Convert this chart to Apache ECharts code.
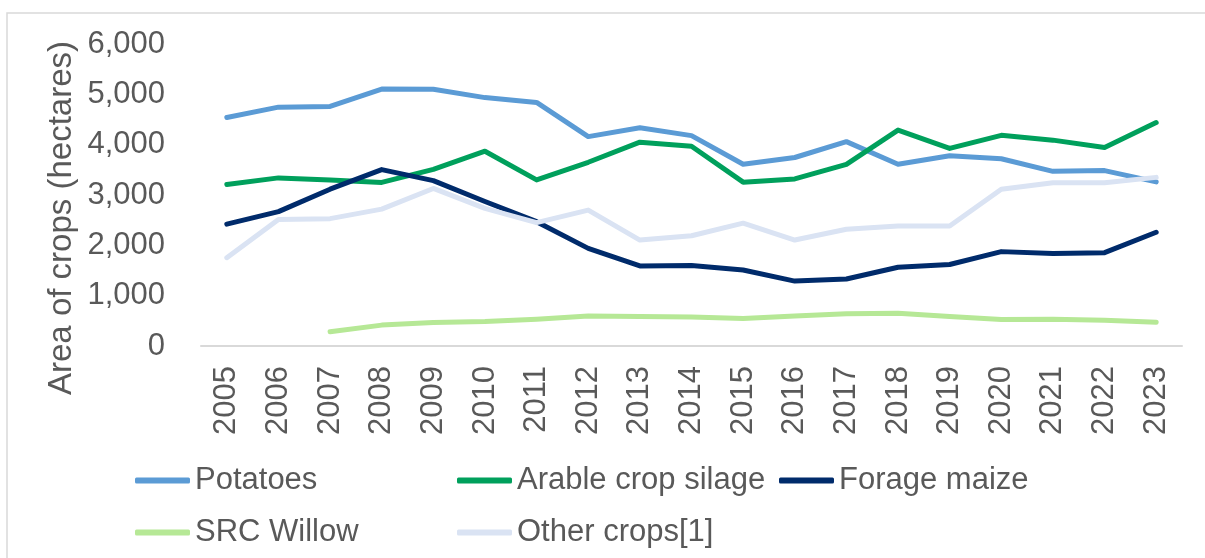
<!DOCTYPE html>
<html>
<head>
<meta charset="utf-8">
<script src="https://cdn.jsdelivr.net/npm/echarts@6/dist/echarts.min.js"></script>
<style>
html,body{margin:0;padding:0;background:#fff;}
#chart{width:1205px;height:558px;}
</style>
</head>
<body>
<div id="chart"></div>
<script>
const years = ['2005','2006','2007','2008','2009','2010','2011','2012','2013','2014','2015','2016','2017','2018','2019','2020','2021','2022','2023'];
const potatoes = [4540,4745,4760,5105,5100,4935,4840,4160,4335,4180,3610,3745,4060,3610,3780,3720,3470,3485,3260];
const arableSilage = [3210,3340,3300,3250,3510,3870,3300,3650,4050,3970,3255,3320,3610,4290,3925,4185,4090,3945,4440];
const forageMaize = [2420,2670,3115,3505,3285,2870,2470,1940,1590,1600,1510,1290,1330,1565,1620,1875,1840,1855,2260];
const srcWillow = [null,null,285,415,465,485,530,595,585,575,545,595,640,650,585,525,530,510,470];
const otherCrops = [1755,2515,2530,2720,3130,2735,2450,2700,2105,2190,2440,2105,2320,2385,2385,3115,3245,3245,3350];
const yTicks = [0,1000,2000,3000,4000,5000,6000];
const seriesNames = ['Potatoes','Arable crop silage','Forage maize','SRC Willow','Other crops[1]'];

const colors = ['#5b9bd5','#00a05c','#002b6b','#b6e896','#dae3f3'];
const FONT = "'Liberation Sans', Arial, sans-serif";
const TXT = '#595959';

const chart = echarts.init(document.getElementById('chart'));
const dataSets = [potatoes, arableSilage, forageMaize, srcWillow, otherCrops];

function legendAt(name, left, top){
  return {
    data:[name], left:left, top:top, orient:'horizontal', padding:0,
    itemWidth:55, itemHeight:6, icon:'roundRect',
    textStyle:{fontFamily:FONT,fontSize:31,color:TXT},
    selectedMode:false
  };
}

chart.setOption({
  animation:false,
  color:colors,
  grid:{left:201,right:23,top:44,bottom:212,containLabel:false},
  graphic:[
    {type:'rect',shape:{x:7,y:13,width:1300,height:600},style:{fill:'none',stroke:'#d9d9d9',lineWidth:1.5},z:-10,silent:true},
    {type:'text',x:62,y:218,rotation:Math.PI/2,style:{text:'Area of crops (hectares)',font:"33px 'Liberation Sans', Arial, sans-serif",fill:TXT,align:'center',verticalAlign:'middle'}}
  ],
  legend:[
    legendAt(seriesNames[0],135,465),
    legendAt(seriesNames[1],457,465),
    legendAt(seriesNames[2],779,465),
    legendAt(seriesNames[3],135,517),
    legendAt(seriesNames[4],457,517)
  ],
  xAxis:{
    type:'category',data:years,boundaryGap:true,
    axisLine:{show:true,lineStyle:{color:'#d9d9d9',width:2}},
    axisTick:{show:false},
    axisLabel:{rotate:90,margin:20,fontFamily:FONT,fontSize:31,color:TXT,interval:0}
  },
  yAxis:{
    type:'value',min:0,max:6000,interval:1000,
    axisLine:{show:false},axisTick:{show:false},splitLine:{show:false},
    axisLabel:{margin:36,fontFamily:FONT,fontSize:31,color:TXT,
      formatter:v=>yTicks.includes(v)?v.toLocaleString('en-US'):''}
  },
  series:dataSets.map((d,i)=>({
    name:seriesNames[i],type:'line',data:d,showSymbol:false,symbol:'none',
    lineStyle:{width:5,color:colors[i],cap:'round',join:'round'},
    itemStyle:{color:colors[i]}
  }))
});
</script>
</body>
</html>
